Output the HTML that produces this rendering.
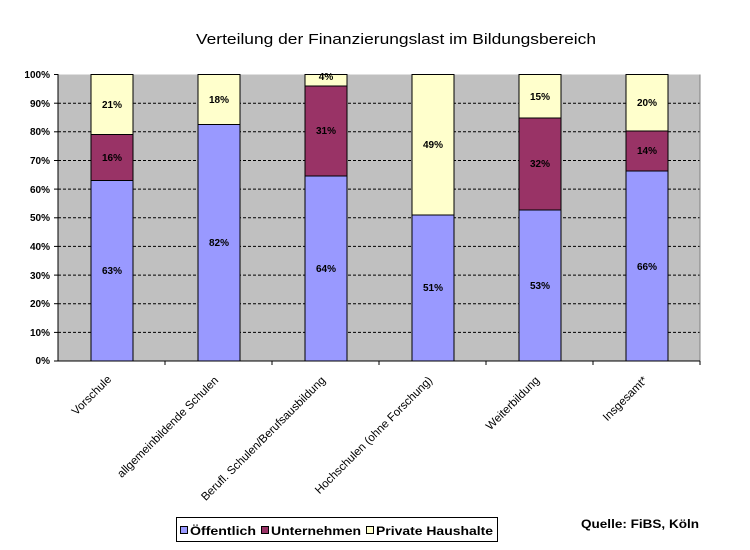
<!DOCTYPE html>
<html><head><meta charset="utf-8"><style>html,body{margin:0;padding:0;background:#fff}svg{display:block}</style></head>
<body>
<svg width="750" height="550" viewBox="0 0 750 550" xmlns="http://www.w3.org/2000/svg" font-family="Liberation Sans, DejaVu Sans, sans-serif">
<rect width="750" height="550" fill="#fff"/>
<text x="396" y="44" font-size="15" text-anchor="middle" textLength="400" lengthAdjust="spacingAndGlyphs">Verteilung der Finanzierungslast im Bildungsbereich</text>
<rect x="58" y="74.5" width="642" height="286.5" fill="#c0c0c0"/>
<g stroke="#000" stroke-width="1" stroke-dasharray="3,2">
<line x1="58" x2="700" y1="103.2" y2="103.2"/><line x1="58" x2="700" y1="131.8" y2="131.8"/>
<line x1="58" x2="700" y1="160.5" y2="160.5"/><line x1="58" x2="700" y1="189.1" y2="189.1"/>
<line x1="58" x2="700" y1="217.8" y2="217.8"/><line x1="58" x2="700" y1="246.4" y2="246.4"/>
<line x1="58" x2="700" y1="275.1" y2="275.1"/><line x1="58" x2="700" y1="303.7" y2="303.7"/>
<line x1="58" x2="700" y1="332.4" y2="332.4"/>
</g>
<g stroke="#000" stroke-width="1">
<rect x="91" y="180.5" width="42" height="180.5" fill="#9999ff"/>
<rect x="91" y="134.5" width="42" height="46" fill="#993366"/>
<rect x="91" y="74.5" width="42" height="60" fill="#ffffcc"/>
<rect x="198" y="124.5" width="42" height="236.5" fill="#9999ff"/>
<rect x="198" y="74.5" width="42" height="50" fill="#ffffcc"/>
<rect x="305" y="176" width="42" height="185" fill="#9999ff"/>
<rect x="305" y="86" width="42" height="90" fill="#993366"/>
<rect x="305" y="74.5" width="42" height="11.5" fill="#ffffcc"/>
<rect x="412" y="215" width="42" height="146" fill="#9999ff"/>
<rect x="412" y="74.5" width="42" height="140.5" fill="#ffffcc"/>
<rect x="519" y="210" width="42" height="151" fill="#9999ff"/>
<rect x="519" y="118" width="42" height="92" fill="#993366"/>
<rect x="519" y="74.5" width="42" height="43.5" fill="#ffffcc"/>
<rect x="626" y="171" width="42" height="190" fill="#9999ff"/>
<rect x="626" y="131" width="42" height="40" fill="#993366"/>
<rect x="626" y="74.5" width="42" height="56.5" fill="#ffffcc"/>
</g>
<g stroke="#808080"><line x1="700" y1="74.5" x2="700" y2="361"/></g>
<g stroke="#000" stroke-width="1">
<line x1="58" y1="74" x2="58" y2="361"/><line x1="58" y1="361" x2="700" y2="361"/>
<line x1="54" x2="58" y1="74.5" y2="74.5"/><line x1="54" x2="58" y1="103.2" y2="103.2"/><line x1="54" x2="58" y1="131.8" y2="131.8"/><line x1="54" x2="58" y1="160.5" y2="160.5"/><line x1="54" x2="58" y1="189.1" y2="189.1"/><line x1="54" x2="58" y1="217.8" y2="217.8"/><line x1="54" x2="58" y1="246.4" y2="246.4"/><line x1="54" x2="58" y1="275.1" y2="275.1"/><line x1="54" x2="58" y1="303.7" y2="303.7"/><line x1="54" x2="58" y1="332.4" y2="332.4"/><line x1="54" x2="58" y1="361" y2="361"/>
<line x1="165" x2="165" y1="361" y2="365"/><line x1="272" x2="272" y1="361" y2="365"/><line x1="379" x2="379" y1="361" y2="365"/><line x1="486" x2="486" y1="361" y2="365"/><line x1="593" x2="593" y1="361" y2="365"/><line x1="700" x2="700" y1="361" y2="365"/>
</g>
<g font-size="10" font-weight="bold" text-anchor="end">
<text x="50" y="78">100%</text><text x="50" y="107">90%</text><text x="50" y="135">80%</text><text x="50" y="164">70%</text><text x="50" y="193">60%</text><text x="50" y="221">50%</text><text x="50" y="250">40%</text><text x="50" y="279">30%</text><text x="50" y="307">20%</text><text x="50" y="336">10%</text><text x="50" y="364">0%</text>
</g>
<g font-size="10" font-weight="bold" text-anchor="middle">
<text x="112" y="108">21%</text><text x="112" y="161">16%</text><text x="112" y="274">63%</text>
<text x="219" y="103">18%</text><text x="219" y="246">82%</text>
<text x="326" y="80">4%</text><text x="326" y="134">31%</text><text x="326" y="272">64%</text>
<text x="433" y="148">49%</text><text x="433" y="291">51%</text>
<text x="540" y="100">15%</text><text x="540" y="167">32%</text><text x="540" y="289">53%</text>
<text x="647" y="106">20%</text><text x="647" y="154">14%</text><text x="647" y="270">66%</text>
</g>
<g font-size="11.5" text-anchor="end">
<text transform="translate(112,380) rotate(-45)">Vorschule</text>
<text transform="translate(219,381) rotate(-45)">allgemeinbildende Schulen</text>
<text transform="translate(326,381) rotate(-45)">Berufl. Schulen/Berufsausbildung</text>
<text transform="translate(433,381) rotate(-45)">Hochschulen (ohne Forschung)</text>
<text transform="translate(540,381) rotate(-45)">Weiterbildung</text>
<text transform="translate(648,381) rotate(-45)">Insgesamt*</text>
</g>
<rect x="176.5" y="517.5" width="321" height="24" fill="#fff" stroke="#000"/>
<g font-size="12" font-weight="bold">
<rect x="180.5" y="526.5" width="7" height="7" fill="#9999ff" stroke="#000"/><text x="190" y="535" textLength="66" lengthAdjust="spacingAndGlyphs">Öffentlich</text>
<rect x="261.5" y="526.5" width="7" height="7" fill="#993366" stroke="#000"/><text x="271" y="535" textLength="90" lengthAdjust="spacingAndGlyphs">Unternehmen</text>
<rect x="366.5" y="526.5" width="7" height="7" fill="#ffffcc" stroke="#000"/><text x="376" y="535" textLength="117" lengthAdjust="spacingAndGlyphs">Private Haushalte</text>
<text x="581" y="528" textLength="118" lengthAdjust="spacingAndGlyphs">Quelle: FiBS, Köln</text>
</g>
</svg>
</body></html>
